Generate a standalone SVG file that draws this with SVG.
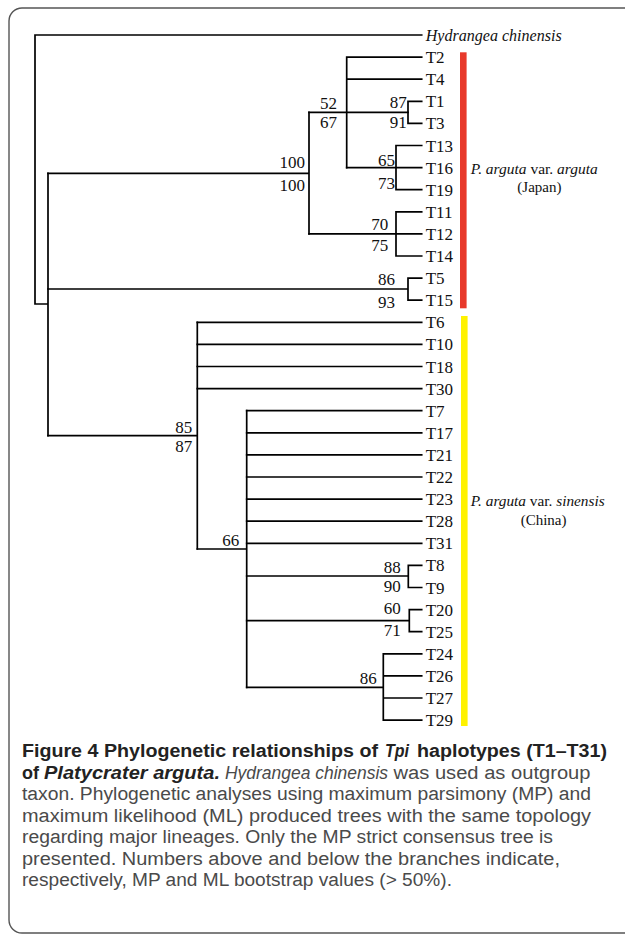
<svg xmlns="http://www.w3.org/2000/svg" width="625" height="934" viewBox="0 0 625 934">
<style>
.br{fill:none;stroke:#000;stroke-width:1.7;stroke-linecap:square}
.lf{font-family:"Liberation Serif","Times New Roman",serif;font-size:17px;fill:#111}
.bs{font-family:"Liberation Serif","Times New Roman",serif;font-size:17px;fill:#111;text-anchor:end}
.grp{font-family:"Liberation Serif","Times New Roman",serif;font-size:15px;fill:#111}
.cap{font-family:"Liberation Sans",Arial,sans-serif;font-size:18px;fill:#4a4a4a}
.b{font-weight:bold;fill:#222}
.i{font-style:italic}
</style>
<rect x="9" y="8" width="640" height="925" rx="13" fill="#fff" stroke="#555" stroke-width="1.4"/>

<g id="connectors" class="br">
<path d="M35,35 H421.7 M35,35 V304 H48 M48,173.3 V435.7"/>
<path d="M48,173.3 H309 M309,112.3 V233.9"/>
<path d="M309,112.3 H408 M346.7,57.1 V167.6 M346.7,57.1 H421.7 M346.7,79.2 H421.7"/>
<path d="M408,101.3 V123.4 M408,101.3 H421.7 M408,123.4 H421.7"/>
<path d="M346.7,167.6 H421.7 M396,145.5 V189.7 M396,145.5 H421.7 M396,189.7 H421.7"/>
<path d="M309,233.9 H421.7 M396,211.8 V256 M396,211.8 H421.7 M396,256 H421.7"/>
<path d="M48,289 H408 M408,278.1 V300.2 M408,278.1 H421.7 M408,300.2 H421.7"/>
<path d="M48,435.7 H197.3 M197.3,322.3 V549"/>
<path d="M197.3,322.3 H421.7 M197.3,344.4 H421.7 M197.3,366.5 H421.7 M197.3,388.6 H421.7"/>
<path d="M197.3,549 H246.7 M246.7,410.7 V687.3"/>
<path d="M246.7,410.7 H421.7 M246.7,432.8 H421.7 M246.7,454.9 H421.7 M246.7,477 H421.7 M246.7,499.1 H421.7 M246.7,521.2 H421.7 M246.7,543.3 H421.7"/>
<path d="M246.7,576 H408.3 M408.3,565.4 V587.5 M408.3,565.4 H421.7 M408.3,587.5 H421.7"/>
<path d="M246.7,620.7 H409.3 M409.3,609.6 V631.7 M409.3,609.6 H421.7 M409.3,631.7 H421.7"/>
<path d="M246.7,687.3 H383.3 M383.3,653.8 V720.1 M383.3,653.8 H421.7 M383.3,675.9 H421.7 M383.3,698 H421.7 M383.3,720.1 H421.7"/>
</g>

<g id="leaves" class="lf">
<g id="n-hydrangea"><text x="425.7" y="41" font-style="italic" textLength="136" lengthAdjust="spacingAndGlyphs">Hydrangea chinensis</text></g>
<g id="n-T2"><text x="425.7" y="63.1">T2</text></g>
<g id="n-T4"><text x="425.7" y="85.2">T4</text></g>
<g id="n-T1"><text x="425.7" y="107.3">T1</text></g>
<g id="n-T3"><text x="425.7" y="129.4">T3</text></g>
<g id="n-T13"><text x="425.7" y="151.5">T13</text></g>
<g id="n-T16"><text x="425.7" y="173.6">T16</text></g>
<g id="n-T19"><text x="425.7" y="195.7">T19</text></g>
<g id="n-T11"><text x="425.7" y="217.8">T11</text></g>
<g id="n-T12"><text x="425.7" y="239.9">T12</text></g>
<g id="n-T14"><text x="425.7" y="262">T14</text></g>
<g id="n-T5"><text x="425.7" y="284.1">T5</text></g>
<g id="n-T15"><text x="425.7" y="306.2">T15</text></g>
<g id="n-T6"><text x="425.7" y="328.3">T6</text></g>
<g id="n-T10"><text x="425.7" y="350.4">T10</text></g>
<g id="n-T18"><text x="425.7" y="372.5">T18</text></g>
<g id="n-T30"><text x="425.7" y="394.6">T30</text></g>
<g id="n-T7"><text x="425.7" y="416.7">T7</text></g>
<g id="n-T17"><text x="425.7" y="438.8">T17</text></g>
<g id="n-T21"><text x="425.7" y="460.9">T21</text></g>
<g id="n-T22"><text x="425.7" y="483">T22</text></g>
<g id="n-T23"><text x="425.7" y="505.1">T23</text></g>
<g id="n-T28"><text x="425.7" y="527.2">T28</text></g>
<g id="n-T31"><text x="425.7" y="549.3">T31</text></g>
<g id="n-T8"><text x="425.7" y="571.4">T8</text></g>
<g id="n-T9"><text x="425.7" y="593.5">T9</text></g>
<g id="n-T20"><text x="425.7" y="615.6">T20</text></g>
<g id="n-T25"><text x="425.7" y="637.7">T25</text></g>
<g id="n-T24"><text x="425.7" y="659.8">T24</text></g>
<g id="n-T26"><text x="425.7" y="681.9">T26</text></g>
<g id="n-T27"><text x="425.7" y="704">T27</text></g>
<g id="n-T29"><text x="425.7" y="726.1">T29</text></g>
</g>

<g id="bootstrap" class="bs">
<text x="305" y="168.3">100</text><text x="305" y="191">100</text>
<text x="337" y="109.3">52</text><text x="337" y="128.3">67</text>
<text x="406.7" y="108.3">87</text><text x="406.7" y="128.3">91</text>
<text x="395" y="166">65</text><text x="395" y="189.3">73</text>
<text x="388.3" y="230">70</text><text x="388.3" y="250.7">75</text>
<text x="395" y="285">86</text><text x="395" y="308.3">93</text>
<text x="192.3" y="432.7">85</text><text x="192.3" y="452.3">87</text>
<text x="239.3" y="545.7">66</text>
<text x="400.7" y="572.7">88</text><text x="400.7" y="592.3">90</text>
<text x="400.7" y="614">60</text><text x="400.7" y="635.7">71</text>
<text x="376.7" y="684">86</text>
</g>

<g id="group-japan">
<rect x="460" y="52.3" width="6.6" height="256" fill="#e8392b"/>
<text class="grp" x="470.7" y="174" textLength="127" lengthAdjust="spacingAndGlyphs"><tspan class="i">P. arguta</tspan><tspan> var. </tspan><tspan class="i">arguta</tspan></text>
<text class="grp" x="517.3" y="192">(Japan)</text>
</g>
<g id="group-china">
<rect x="461" y="316" width="6.6" height="410" fill="#fff200"/>
<text class="grp" x="470.7" y="506" textLength="134" lengthAdjust="spacingAndGlyphs"><tspan class="i">P. arguta</tspan><tspan> var. </tspan><tspan class="i">sinensis</tspan></text>
<text class="grp" x="520.7" y="525">(China)</text>
</g>

<g id="caption" class="cap">
<text class="b" x="22" y="757" textLength="356" lengthAdjust="spacingAndGlyphs">Figure 4 Phylogenetic relationships of</text>
<text class="b i" x="385" y="757" textLength="24" lengthAdjust="spacingAndGlyphs">Tpi</text>
<text class="b" x="417" y="757" textLength="190" lengthAdjust="spacingAndGlyphs">haplotypes (T1–T31)</text>
<text class="b" x="22" y="778.5" textLength="17" lengthAdjust="spacingAndGlyphs">of</text>
<text class="b i" x="44" y="778.5" textLength="176" lengthAdjust="spacingAndGlyphs">Platycrater arguta.</text>
<text class="i" x="225" y="778.5" textLength="163" lengthAdjust="spacingAndGlyphs">Hydrangea chinensis</text>
<text x="393.5" y="778.5" textLength="197" lengthAdjust="spacingAndGlyphs">was used as outgroup</text>
<text x="22" y="800" textLength="569" lengthAdjust="spacingAndGlyphs">taxon. Phylogenetic analyses using maximum parsimony (MP) and</text>
<text x="22" y="821.5" textLength="569" lengthAdjust="spacingAndGlyphs">maximum likelihood (ML) produced trees with the same topology</text>
<text x="22" y="843" textLength="531" lengthAdjust="spacingAndGlyphs">regarding major lineages. Only the MP strict consensus tree is</text>
<text x="22" y="864.5" textLength="538" lengthAdjust="spacingAndGlyphs">presented. Numbers above and below the branches indicate,</text>
<text x="22" y="886" textLength="430" lengthAdjust="spacingAndGlyphs">respectively, MP and ML bootstrap values (&gt; 50%).</text>
</g>
</svg>
